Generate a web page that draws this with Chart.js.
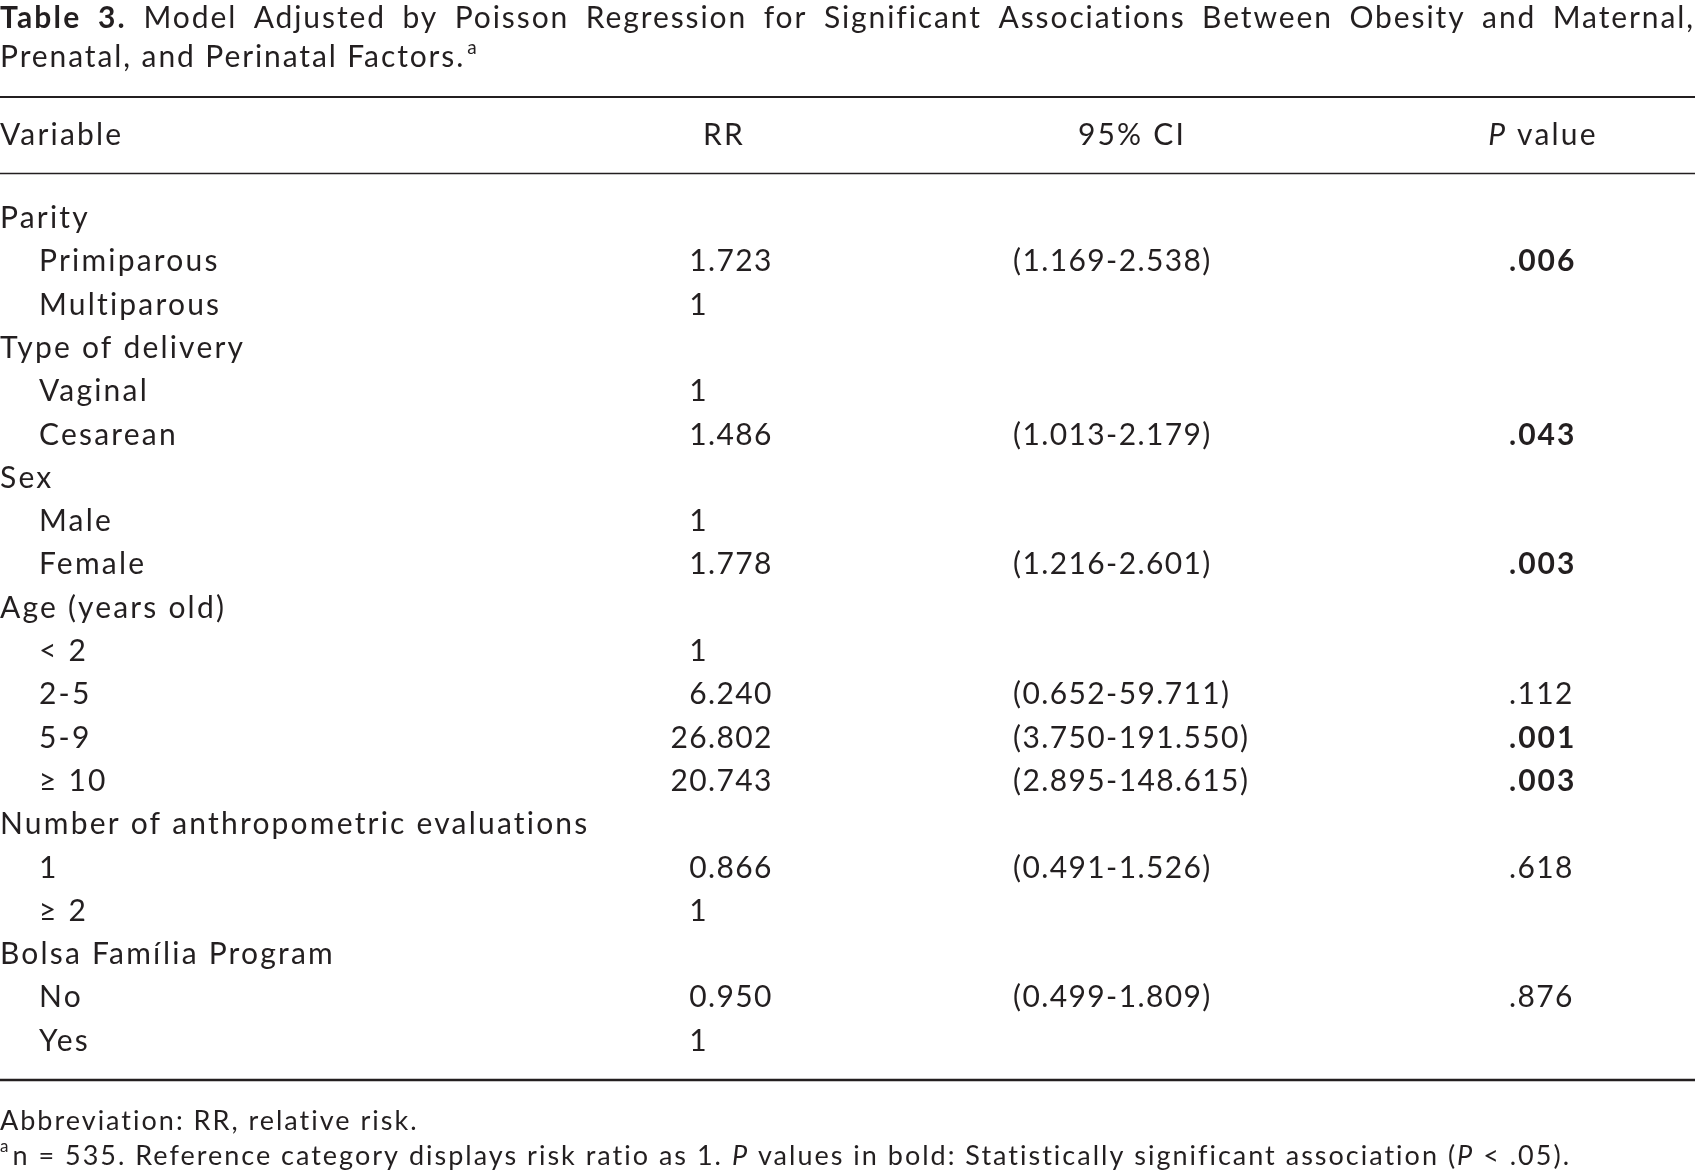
<!DOCTYPE html>
<html>
<head>
<meta charset="utf-8">
<script src="https://cdn.jsdelivr.net/npm/chart.js@4.4.1/dist/chart.umd.min.js"></script>
<style>
  html, body { margin: 0; padding: 0; background: #fff; }
  #wrap { width: 1695px; height: 1176px; position: relative; }
</style>
</head>
<body>
<div id="wrap"><canvas id="my-chart"></canvas></div>
<script>
// table rows
const variables = [
  "Parity", "Primiparous", "Multiparous",
  "Type of delivery", "Vaginal", "Cesarean",
  "Sex", "Male", "Female",
  "Age (years old)", "< 2", "2-5", "5-9", "\u2265 10",
  "Number of anthropometric evaluations", "1", "\u2265 2",
  "Bolsa Fam\u00edlia Program", "No", "Yes"
];
const indented = [0, 1, 1, 0, 1, 1, 0, 1, 1, 0, 1, 1, 1, 1, 0, 1, 1, 0, 1, 1];
const rrValues = [null, 1.723, 1, null, 1, 1.486, null, 1, 1.778, null, 1, 6.240, 26.802, 20.743, null, 0.866, 1, null, 0.950, 1];
const ciLow = [null, 1.169, null, null, null, 1.013, null, null, 1.216, null, null, 0.652, 3.750, 2.895, null, 0.491, null, null, 0.499, null];
const ciHigh = [null, 2.538, null, null, null, 2.179, null, null, 2.601, null, null, 59.711, 191.550, 148.615, null, 1.526, null, null, 1.809, null];
const pValues = [null, 0.006, null, null, null, 0.043, null, null, 0.003, null, null, 0.112, 0.001, 0.003, null, 0.618, null, null, 0.876, null];

const headers = ["Variable", "RR", "95% CI", "P value"];
const titleBold = "Table 3.";
const titleText = "Model Adjusted by Poisson Regression for Significant Associations Between Obesity and Maternal,";
const titleText2 = "Prenatal, and Perinatal Factors.";
const footAbbrev = "Abbreviation: RR, relative risk.";

// layout
const W = 1695, H = 1176;
const ink = "#231f20";
const FAMILY = "Lato, 'Open Sans', sans-serif";
const textStyle = { f: "30px " + FAMILY, ls: 2.2 };
const numStyle = { f: "30px " + FAMILY, ls: 1.4 };
const boldNumStyle = { f: "bold 30px " + FAMILY, ls: 2.0 };
const italStyle = { f: "italic 30px " + FAMILY, ls: 2.2 };
const titleStyle = { f: "30px " + FAMILY, ls: 1.9 };
const titleBoldStyle = { f: "bold 30px " + FAMILY, ls: 2.2 };
const footStyle = { f: "27px " + FAMILY, ls: 2.0 };
const footItal = { f: "italic 27px " + FAMILY, ls: 2.0 };
const supStyle = { f: "19px " + FAMILY, ls: 0 };
const rowTop = 217, rowStep = 43.3, capShift = 11;
const colX = { label: 0, indent: 39, rr: 708, ci: 1013, p: 1509 };
const headX = [0, 724, 1132, 1543];
const headerRow = (134 - rowTop) / rowStep;

const fmtRR = (v) => (v === 1 ? "1" : v.toFixed(3));
const fmtP = (v) => v.toFixed(3).replace(/^0/, "");

function cells(values, x, textFn, extra) {
  const out = [];
  values.forEach((v, i) => {
    if (v === null) return;
    const c = { x: typeof x === "function" ? x(i) : x, y: i, t: textFn(v, i) };
    if (extra) Object.assign(c, extra(v, i));
    out.push(c);
  });
  return out;
}

const datasets = [
  { label: "Variable", kind: "text", data: cells(variables, (i) => (indented[i] ? colX.indent : colX.label), (v) => v) },
  { label: "RR", kind: "decimal", data: cells(rrValues, colX.rr, fmtRR) },
  { label: "95% CI", kind: "num", data: cells(ciLow, colX.ci, (v, i) => "(" + v.toFixed(3) + "-" + ciHigh[i].toFixed(3) + ")") },
  { label: "P value", kind: "num", data: cells(pValues, colX.p, fmtP, (v) => ({ bold: v < 0.05 })) },
  { label: "header", kind: "header", data: headers.map((h, i) => ({ x: headX[i], y: headerRow, t: h })) }
];
datasets.forEach((d) => { d.pointRadius = 0; d.pointHitRadius = 0; d.showLine = false; });

function use(ctx, s) {
  ctx.font = s.f;
  ctx.letterSpacing = s.ls + "px";
}

function width(ctx, s, t) {
  use(ctx, s);
  return ctx.measureText(t).width;
}

function drawRuns(ctx, runs, x, y) {
  ctx.textAlign = "left";
  runs.forEach((r) => {
    use(ctx, r.s);
    ctx.fillText(r.t, x, y + (r.dy || 0));
    x += ctx.measureText(r.t).width + (r.gap || 0);
  });
  return x;
}

const tablePlugin = {
  id: "tableText",
  afterDatasetsDraw(chart) {
    const ctx = chart.ctx;
    ctx.save();
    ctx.fillStyle = ink;
    ctx.strokeStyle = ink;
    ctx.textBaseline = "alphabetic";

    chart.data.datasets.forEach((ds, di) => {
      const meta = chart.getDatasetMeta(di);
      meta.data.forEach((pt, i) => {
        const c = ds.data[i];
        const y = pt.y + capShift;
        if (ds.kind === "decimal") {
          const parts = c.t.split(".");
          use(ctx, numStyle);
          ctx.textAlign = "right";
          ctx.fillText(parts[0], pt.x, y);
          if (parts[1]) {
            ctx.textAlign = "left";
            ctx.fillText("." + parts[1], pt.x, y);
          }
        } else if (ds.kind === "header") {
          if (i === 0) {
            drawRuns(ctx, [{ t: c.t, s: textStyle }], pt.x, y);
          } else if (c.t.startsWith("P ")) {
            const runs = [{ t: "P", s: italStyle }, { t: c.t.slice(1), s: textStyle }];
            const w = width(ctx, italStyle, "P") + width(ctx, textStyle, c.t.slice(1));
            drawRuns(ctx, runs, pt.x - w / 2, y);
          } else {
            drawRuns(ctx, [{ t: c.t, s: textStyle }], pt.x - width(ctx, textStyle, c.t) / 2, y);
          }
        } else if (ds.kind === "num") {
          drawRuns(ctx, [{ t: c.t, s: c.bold ? boldNumStyle : numStyle }], pt.x, y);
        } else {
          drawRuns(ctx, [{ t: c.t, s: textStyle }], pt.x, y);
        }
      });
    });

    // rules
    ctx.lineWidth = 2;
    ctx.beginPath(); ctx.moveTo(0, 97); ctx.lineTo(W, 97); ctx.stroke();
    ctx.lineWidth = 1.7;
    ctx.beginPath(); ctx.moveTo(0, 173.5); ctx.lineTo(W, 173.5); ctx.stroke();
    ctx.lineWidth = 2.7;
    ctx.beginPath(); ctx.moveTo(0, 1080); ctx.lineTo(W, 1080); ctx.stroke();

    // title, first line justified
    const words = titleBold.split(" ").map((t) => ({ t: t, s: titleBoldStyle }))
      .concat(titleText.split(" ").map((t) => ({ t: t, s: titleStyle })));
    let total = 0;
    words.forEach((w) => { total += width(ctx, w.s, w.t); });
    const gap = (W - total) / (words.length - 1);
    words.forEach((w) => { w.gap = gap; });
    drawRuns(ctx, words, 0, 28);
    const x = drawRuns(ctx, [{ t: titleText2, s: titleStyle }], 0, 67);
    drawRuns(ctx, [{ t: "a", s: supStyle }], x + 2, 54);

    // footnotes
    drawRuns(ctx, [{ t: footAbbrev, s: footStyle }], 0, 1130);
    drawRuns(ctx, [
      { t: "a", s: { f: "17px " + FAMILY, ls: 0 }, dy: -13, gap: 4 },
      { t: "n = 535. Reference category displays risk ratio as 1. ", s: footStyle },
      { t: "P", s: footItal },
      { t: " values in bold: Statistically significant association (", s: footStyle },
      { t: "P", s: footItal },
      { t: " < .05).", s: footStyle }
    ], 0, 1165);

    ctx.restore();
  }
};

const ctx = document.getElementById("my-chart").getContext("2d");
const chart = new Chart(ctx, {
  type: "scatter",
  data: { datasets: datasets },
  options: {
    responsive: true,
    maintainAspectRatio: false,
    animation: false,
    events: [],
    layout: { padding: 0 },
    plugins: { legend: { display: false }, tooltip: { enabled: false } },
    scales: {
      x: { type: "linear", display: false, min: 0, max: W },
      y: { type: "linear", display: false, reverse: true, min: -rowTop / rowStep, max: (H - rowTop) / rowStep }
    }
  },
  plugins: [tablePlugin]
});
</script>
</body>
</html>
